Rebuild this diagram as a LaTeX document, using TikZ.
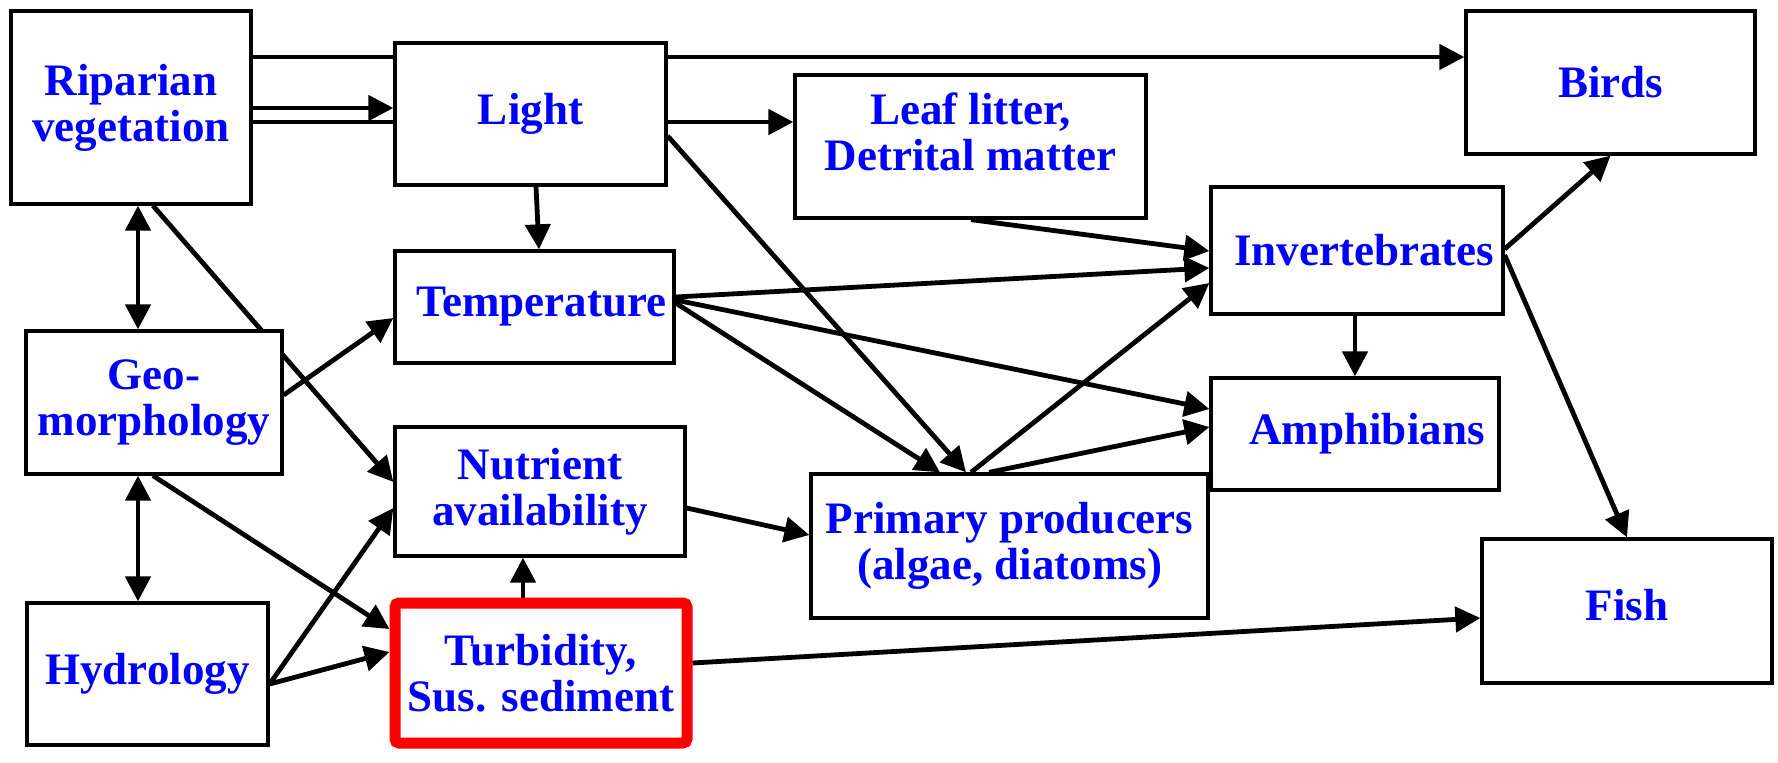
\documentclass[tikz,border=0pt]{standalone}
\usepackage{fontspec}
\setmainfont{Liberation Serif}
\usetikzlibrary{arrows.meta,calc}
\pgfdeclarelayer{bg}
\pgfsetlayers{bg,main}
\begin{document}
\begin{tikzpicture}[x=1pt,y=-1pt,
 box/.style={draw=black, line width=3.3pt, fill=white, text=blue, font=\fontsize{45}{46}\selectfont\bfseries, align=center, inner sep=0pt},
 redbox/.style={box, draw=red, line width=11pt, rounded corners=4pt},
 conn/.style={line width=4.8pt, -{Triangle[length=25pt,width=25pt]}},
 biconn/.style={line width=4.8pt, {Triangle[length=25pt,width=25pt]}-{Triangle[length=25pt,width=25pt]}}]
\useasboundingbox (0,0) rectangle (1778,763);
\node[box, minimum width=240, minimum height=193] (rip) at (131,107.5) {Riparian\\vegetation};
\node[box, minimum width=271, minimum height=142] (light) at (530.5,114) {Light};
\node[box, minimum width=351, minimum height=143] (leaf) at (970.5,146.5) {\raisebox{8pt}[\height][\depth]{\begin{tabular}{@{}c@{}}Leaf litter,\\Detrital matter\end{tabular}}};
\node[box, minimum width=289, minimum height=143] (birds) at (1610.5,82.5) {Birds};
\node[box, minimum width=292, minimum height=127] (inv) at (1357,250.5) {\hspace*{14pt}Invertebrates};
\node[box, minimum width=279, minimum height=112] (temp) at (534.5,307) {\hspace*{14pt}Temperature};
\node[box, minimum width=256, minimum height=143] (geo) at (154,402.5) {Geo-\\morphology};
\node[box, minimum width=288, minimum height=112] (amph) at (1355,434) {\hspace*{24pt}Amphibians};
\node[box, minimum width=290, minimum height=129] (nut) at (540,491.5) {Nutrient\\availability};
\node[box, minimum width=397, minimum height=144] (prim) at (1009.5,546) {Primary producers\\(algae, diatoms)};
\node[box, minimum width=290, minimum height=144] (fish) at (1627,611) {\raisebox{13pt}{Fish}};
\node[box, minimum width=241, minimum height=142] (hyd) at (147.5,674) {Hydrology};
\node[redbox, minimum width=292, minimum height=140] (turb) at (541,673) {Turbidity,\\Sus. sediment};
\begin{pgfonlayer}{bg}
\draw[conn] (rip.east |- 0,57) -- (birds.west |- 0,57);
\draw[conn] (rip.east |- 0,108) -- (light.west |- 0,108);
\draw[conn] (rip.east |- 0,122) -- (leaf.west |- 0,122);
\draw[conn] (light.south -| 536,0) -- (temp.north -| 539,0);
\draw[conn] (light.east |- 0,136) -- (prim.north -| 966,0);
\draw[conn] (rip.south -| 153,0) -- (nut.west |- 0,482);
\draw[biconn] (rip.south -| 138,0) -- (geo.north -| 138,0);
\draw[biconn] (geo.south -| 138,0) -- (hyd.north -| 138,0);
\draw[conn] (geo.east |- 0,395) -- (temp.west |- 0,318);
\draw[conn] (geo.south -| 153,0) -- (turb.west |- 0,629);
\draw[conn] (hyd.east |- 0,684) -- (nut.west |- 0,508);
\draw[conn] (hyd.east |- 0,684) -- (turb.west |- 0,652);
\draw[conn] (turb.north -| 523,0) -- (nut.south -| 523,0);
\draw[conn] (turb.east |- 0,663) -- (fish.west |- 0,618);
\draw[conn] (nut.east |- 0,508) -- (prim.west |- 0,535);
\draw[conn] (temp.east |- 0,297) -- (inv.west |- 0,268);
\draw[conn] (temp.east |- 0,300) -- (amph.west |- 0,409);
\draw[conn] (temp.east |- 0,303) -- (prim.north -| 940,0);
\draw[conn] (leaf.south -| 971,0) -- (inv.west |- 0,251);
\draw[conn] (prim.north -| 971,0) -- (inv.west |- 0,283);
\draw[conn] (prim.north -| 989,0) -- (amph.west |- 0,427);
\draw[conn] (inv.south -| 1355,0) -- (amph.north -| 1355,0);
\draw[conn] (inv.east |- 0,249) -- (birds.south);
\draw[conn] (inv.east |- 0,255) -- (fish.north);
\end{pgfonlayer}
\end{tikzpicture}
\end{document}
